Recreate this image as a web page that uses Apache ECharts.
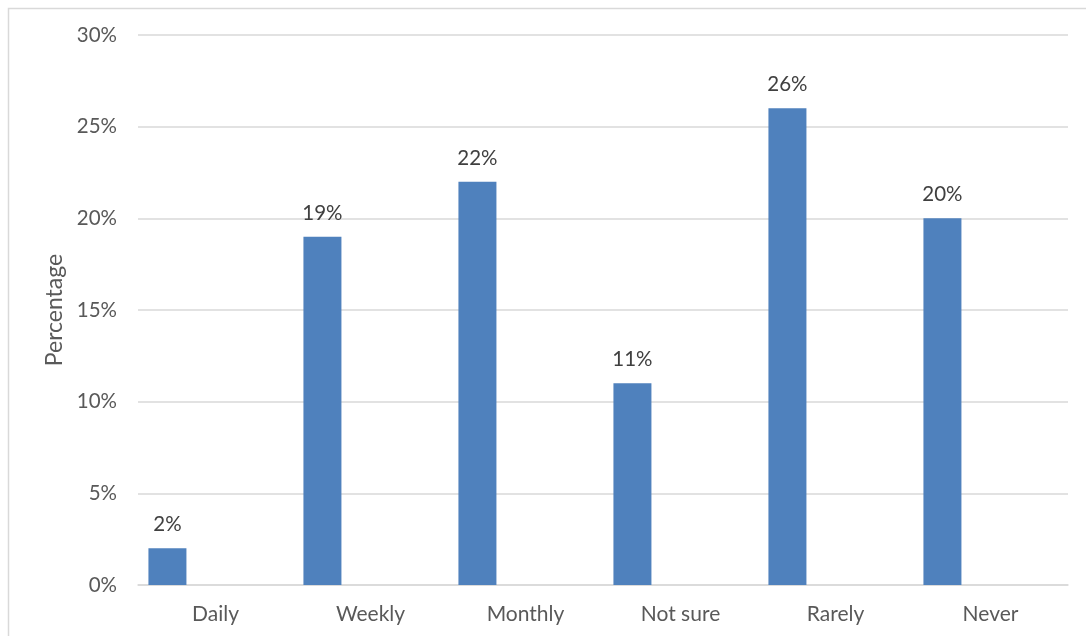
<!DOCTYPE html>
<html>
<head>
<meta charset="utf-8">
<style>
  html, body { margin: 0; padding: 0; background: #ffffff; }
  #chart { width: 1086px; height: 636px; }
</style>
<script src="https://cdn.jsdelivr.net/npm/echarts@6/dist/echarts.min.js"></script>
</head>
<body>
<div id="chart"></div>
<script>
// Survey frequency categories and the share of respondents in each (%)
const categories = ['Daily', 'Weekly', 'Monthly', 'Not sure', 'Rarely', 'Never'];
const percentages = [2, 19, 22, 11, 26, 20];
// Empty companion series: keeps the bars in the left slot of each category group
const placeholder = [null, null, null, null, null, null];
const yTicks = { min: 0, max: 30, interval: 5 };

const FONT = 'Lato';
const TEXT = '#595959';
const GRID_LINE = '#d9d9d9';
const BAR = '#4f81bd';

const chart = echarts.init(document.getElementById('chart'), null, { renderer: 'canvas' });

chart.setOption({
  animation: false,
  backgroundColor: '#ffffff',
  textStyle: { fontFamily: FONT },
  graphic: [{
    type: 'rect',
    silent: true,
    shape: { x: 8.5, y: 8.5, width: 1100, height: 700 },
    style: { fill: 'none', stroke: GRID_LINE, lineWidth: 1.5 },
    z: -1
  }],
  grid: { left: 138, right: 18, top: 35, bottom: 51, containLabel: false },
  xAxis: {
    type: 'category',
    data: categories,
    axisLine: { show: true, lineStyle: { color: GRID_LINE, width: 1.5 } },
    axisTick: { show: false },
    axisLabel: { color: TEXT, fontFamily: FONT, fontSize: 21, margin: 19 },
    splitLine: { show: false }
  },
  yAxis: {
    type: 'value',
    min: yTicks.min,
    max: yTicks.max,
    interval: yTicks.interval,
    name: 'Percentage',
    nameLocation: 'middle',
    nameRotate: 90,
    nameGap: 69,
    nameTextStyle: { color: TEXT, fontFamily: FONT, fontSize: 23 },
    axisLine: { show: false },
    axisTick: { show: false },
    axisLabel: { color: TEXT, fontFamily: FONT, fontSize: 20.5, margin: 21, formatter: '{value}%' },
    splitLine: { show: true, lineStyle: { color: GRID_LINE, width: 1.5 } }
  },
  series: [
    {
      name: 'Share',
      type: 'bar',
      data: percentages,
      barWidth: 38,
      barGap: '153%',
      itemStyle: { color: BAR },
      label: {
        show: true,
        position: 'top',
        distance: 13,
        color: '#404040',
        fontFamily: FONT,
        fontSize: 20.5,
        formatter: '{c}%'
      }
    },
    {
      name: 'Spacer',
      type: 'bar',
      data: placeholder,
      barWidth: 38,
      itemStyle: { color: BAR }
    }
  ]
});
</script>
</body>
</html>
